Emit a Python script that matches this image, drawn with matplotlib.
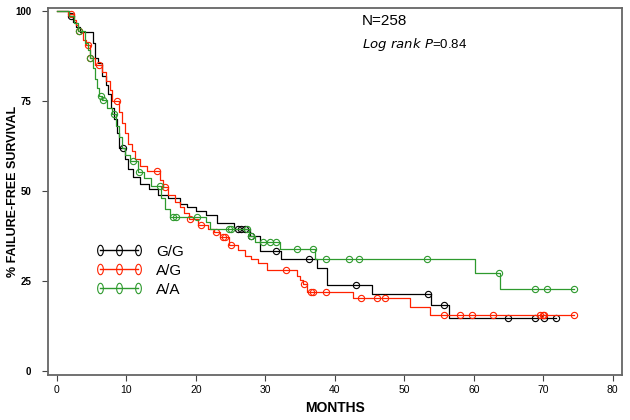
import numpy as np
import matplotlib.pyplot as plt
from matplotlib.path import Path
from matplotlib.lines import Line2D

# event times (months) and survival (%) after each drop
gg_t = [0, 1.8, 2.3, 2.8, 3.3, 5.2, 5.5, 5.9, 6.5, 7.0, 7.4, 7.8, 8.2, 8.7, 9.0, 9.8,
        10.3, 11.0, 12.0, 13.2, 14.5, 16.0, 17.7, 18.7, 20.0, 21.5, 23.0, 25.5, 27.8,
        29.2, 32.2, 37.4, 38.8, 45.4, 53.9, 56.4]
gg_s = [100, 98.5, 97, 95.5, 94, 91, 87, 85.5, 82, 79.5, 77, 73, 70, 66, 62, 59,
        56, 54, 52, 50.5, 49, 48, 46.5, 45.5, 44.5, 43.3, 41, 39.4, 37.5,
        33.2, 31, 28.5, 24, 21.4, 18.3, 14.7]
gg_c = [2.0, 9.5, 26.0, 26.5, 27.0, 28.0, 31.5, 36.3, 43.0, 53.4, 55.7, 64.9, 68.8, 70.1, 71.8]

ag_t = [0, 1.6, 2.4, 2.8, 3.1, 3.8, 4.2, 4.7, 5.5, 6.5, 7.1, 7.6, 8.0, 9.0, 9.4, 9.8,
        10.3, 10.8, 11.3, 12.0, 13.0, 14.9, 15.2, 16.0, 17.0, 17.7, 18.3, 19.0, 20.3,
        21.8, 22.6, 23.5, 24.8, 26.0, 27.0, 28.0, 29.0, 30.2, 34.5, 35.0, 35.4, 36.0,
        42.6, 50.8, 53.7]
ag_s = [100, 99, 97.5, 96, 94.5, 92, 90.5, 87, 85, 83, 80.5, 78, 75, 72, 69, 66,
        63, 61, 59, 57, 55.5, 53, 51, 49, 47, 45.5, 44, 42.2, 40.6,
        39.5, 38.7, 37.3, 35, 33.5, 32, 31, 30, 28, 26.5, 25.3, 24.2, 22,
        20.2, 17.9, 15.7]
ag_c = [2.0, 3.2, 4.5, 4.8, 6.1, 8.6, 14.4, 15.5, 19.2, 20.8, 22.9, 23.9, 24.2, 25.1,
        32.9, 35.5, 36.6, 36.9, 38.7, 43.8, 46.0, 47.2, 55.7, 58.0, 59.8, 62.7,
        69.5, 69.9, 70.1, 74.4]

aa_t = [0, 1.8, 2.5, 3.0, 4.0, 4.5, 4.8, 5.2, 5.5, 5.8, 6.1, 6.5, 7.2, 7.9, 8.5, 8.9,
        9.3, 9.8, 10.5, 11.6, 12.5, 13.5, 15.0, 15.6, 16.3, 21.5, 22.0, 27.7, 28.5,
        32.1, 37.1, 60.1, 63.8]
aa_s = [100, 98.5, 96.5, 94.3, 91, 89, 87, 84, 81, 78.5, 76.4, 75.3, 73, 71.4, 68, 65,
        62, 60, 58.3, 55.4, 53.5, 51.4, 48, 45, 42.9, 41.5, 39.4, 37.5, 35.9,
        33.8, 31.1, 27.3, 22.8]
aa_c = [3.2, 4.8, 6.3, 6.6, 8.2, 11.0, 11.8, 14.8, 16.7, 17.1, 20.1, 24.7, 25.0, 27.3,
        27.9, 29.7, 30.6, 31.6, 34.5, 36.9, 38.7, 42.0, 43.5, 53.3, 63.6, 68.8, 70.5, 74.4]

groups = ["G/G", "A/G", "A/A"]
colors = ["#000000", "#ff2200", "#2e9a2e"]
ends = [71.8, 74.4, 74.4]

narrow = ["Liberation Sans Narrow", "Liberation Sans"]

# tall oval marker, as in the original legend
th = np.linspace(0, 2 * np.pi, 40)
oval = Path(np.column_stack([0.55 * np.cos(th), np.sin(th)]), closed=True)

fig = plt.figure(figsize=(6.3, 4.2), dpi=100)
ax = fig.add_axes([0.076, 0.107, 0.911, 0.874])

data = [(gg_t, gg_s, gg_c), (ag_t, ag_s, ag_c), (aa_t, aa_s, aa_c)]
for (t, s, c), col, end in zip(data, colors, ends):
    tt = np.array(t + [end])
    ss = np.array(s + [s[-1]])
    ax.step(tt, ss, where="post", color=col, lw=0.9)
    c = np.array(c)
    idx = np.searchsorted(np.array(t), c, side="right") - 1
    cs = np.array(s)[idx]
    ax.plot(c, cs, ls="none", marker="o", ms=4.5, mfc="none", mec=col, mew=0.8)

handles = [Line2D([], [], color=col, lw=1, marker=oval, ms=7.5, mfc="none", mec=col, mew=0.8)
           for col in colors]
ax.legend(handles, groups, loc="upper left", bbox_to_anchor=(0.082, 0.355), frameon=False,
          numpoints=3, handlelength=3.1, handletextpad=0.9, labelspacing=0.32,
          borderpad=0, borderaxespad=0, prop={"family": "Liberation Sans", "size": 11})

ax.text(43.9, 97.2, "N=258", fontsize=11, family="Liberation Sans", va="center")
ax.text(43.9, 90.8, r"$\mathit{Log\ rank\ P}$=0.84", fontsize=9.5, family="Liberation Sans",
        va="center")

ax.set_xlim(-1.3, 81.3)
ax.set_ylim(-1.1, 100.8)
ax.set_xticks(np.arange(0, 81, 10))
ax.set_yticks([0, 25, 50, 75, 100])
for lab in ax.get_xticklabels():
    lab.set_family("Liberation Sans")
    lab.set_fontsize(7.5)
for lab in ax.get_yticklabels():
    lab.set_family(narrow)
    lab.set_fontsize(7)
    lab.set_fontweight("bold")
ax.tick_params(length=4, width=0.8, color="#444444", pad=3)
ax.tick_params(axis="y", pad=8)

for sp in ax.spines.values():
    sp.set_color("#666666")
    sp.set_linewidth(1.3)

ax.set_xlabel("MONTHS", fontsize=10, fontweight="bold", family=narrow)
ax.set_ylabel("% FAILURE-FREE SURVIVAL", fontsize=9, fontweight="bold", family=narrow)
ax.xaxis.set_label_coords(0.5, -0.072)
ax.yaxis.set_label_coords(-0.05, 0.5)

fig.savefig("out.png", dpi=100)
